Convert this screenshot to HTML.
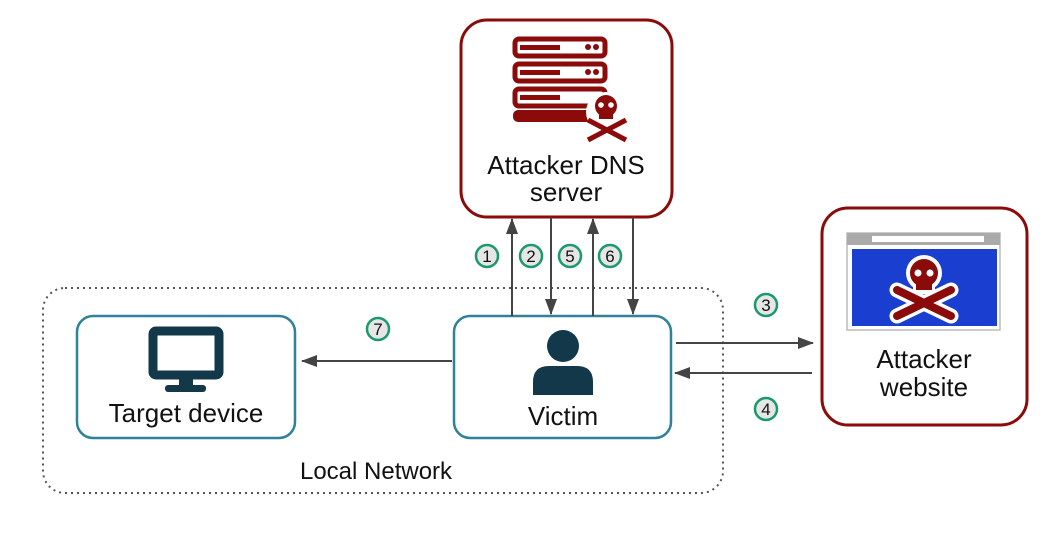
<!DOCTYPE html>
<html><head><style>body{margin:0;background:#fff}svg{display:block}text{font-family:"Liberation Sans",sans-serif;fill:#111}</style></head><body>
<svg width="1064" height="534" viewBox="0 0 1064 534">
<defs><marker id="b" markerWidth="16" markerHeight="16" refX="15" refY="6" orient="auto" markerUnits="userSpaceOnUse"><path d="M0,0L16,6L0,12z" fill="#444"/></marker></defs>
<rect x="43" y="288" width="680" height="205" rx="22" fill="none" stroke="#555" stroke-width="2" stroke-dasharray="2,4"/>
<rect x="461" y="20" width="211" height="197" rx="26" fill="#fff" stroke="#8b0a0a" stroke-width="3"/>
<rect x="822" y="208" width="205" height="217" rx="26" fill="#fff" stroke="#8b0a0a" stroke-width="3"/>
<rect x="77" y="316" width="218" height="122" rx="16" fill="#fff" stroke="#2e8299" stroke-width="2.5"/>
<rect x="454" y="316" width="217" height="122" rx="16" fill="#fff" stroke="#2e8299" stroke-width="2.5"/>
<!-- server icon -->
<g fill="none" stroke="#8b0a0a" stroke-width="5">
<rect x="515" y="39" width="90" height="17" rx="4"/><rect x="515" y="64" width="90" height="17" rx="4"/><rect x="515" y="89" width="90" height="17" rx="4"/></g>
<g fill="#8b0a0a"><rect x="520" y="45" width="40" height="5"/><rect x="520" y="70" width="40" height="5"/><rect x="520" y="95" width="40" height="5"/>
<circle cx="588" cy="47" r="3"/><circle cx="596" cy="47" r="3"/><circle cx="588" cy="72" r="3"/><circle cx="596" cy="72" r="3"/>
<rect x="513" y="110" width="80" height="12" rx="5"/></g>
<circle cx="606" cy="112" r="20" fill="#fff"/>
<path d="M588,120L626,140M626,120L588,140" stroke="#8b0a0a" stroke-width="5"/>
<circle cx="606" cy="106" r="11" fill="#8b0a0a"/><rect x="599" y="110" width="14" height="9" fill="#8b0a0a"/><circle cx="601" cy="105" r="2.8" fill="#fff"/><circle cx="611" cy="105" r="2.8" fill="#fff"/>
<text x="566" y="174" font-size="26" text-anchor="middle">Attacker DNS</text>
<text x="566" y="201" font-size="26" text-anchor="middle">server</text>
<!-- browser -->
<rect x="847" y="233" width="153" height="97" fill="#fff" stroke="#bbb" stroke-width="1.5"/>
<rect x="847" y="233" width="153" height="12" fill="#aaa"/>
<rect x="872" y="236" width="112" height="6" fill="#fff"/>
<rect x="852" y="249" width="145" height="77" fill="#1a3ed0"/>
<path d="M897,290L951,316M951,290L897,316" stroke="#fff" stroke-width="15" stroke-linecap="round"/>
<path d="M897,290L951,316M951,290L897,316" stroke="#8b0a0a" stroke-width="8" stroke-linecap="round"/>
<circle cx="924" cy="273" r="18" fill="#fff"/><rect x="913" y="280" width="22" height="14" rx="3" fill="#fff"/>
<circle cx="924" cy="273" r="14" fill="#8b0a0a"/><rect x="916" y="280" width="16" height="10" fill="#8b0a0a"/>
<circle cx="918" cy="273" r="3.5" fill="#fff"/><circle cx="930" cy="273" r="3.5" fill="#fff"/>
<text x="924" y="368" font-size="26" text-anchor="middle">Attacker</text>
<text x="924" y="396" font-size="26" text-anchor="middle">website</text>
<!-- monitor -->
<rect x="153" y="331" width="66" height="44" rx="3" fill="none" stroke="#12384a" stroke-width="9"/>
<rect x="179" y="377" width="14" height="10" fill="#12384a"/><rect x="165" y="385" width="41" height="7" rx="3" fill="#12384a"/>
<text x="186" y="422" font-size="26" text-anchor="middle">Target device</text>
<!-- person -->
<circle cx="563" cy="346" r="16" fill="#12384a"/>
<path d="M533,395L533,382Q533,366 549,366L577,366Q593,366 593,382L593,395z" fill="#12384a"/>
<text x="563" y="425" font-size="26" text-anchor="middle">Victim</text>
<text x="376" y="479" font-size="24" text-anchor="middle">Local Network</text>
<!-- arrows -->
<g stroke="#444" stroke-width="2" fill="none">
<line x1="512" y1="316" x2="512" y2="219" marker-end="url(#b)"/>
<line x1="551" y1="217" x2="551" y2="314" marker-end="url(#b)"/>
<line x1="593" y1="316" x2="593" y2="219" marker-end="url(#b)"/>
<line x1="633" y1="217" x2="633" y2="314" marker-end="url(#b)"/>
<line x1="452" y1="361" x2="302" y2="361" marker-end="url(#b)"/>
<line x1="676" y1="343" x2="813" y2="343" marker-end="url(#b)"/>
<line x1="812" y1="373" x2="675" y2="373" marker-end="url(#b)"/>
</g>
<g font-size="17" text-anchor="middle">
<g fill="#e6e6e6" stroke="#1a9a6a" stroke-width="2.5">
<circle cx="487" cy="256" r="11"/><circle cx="531" cy="256" r="11"/><circle cx="570" cy="256" r="11"/><circle cx="610" cy="256" r="11"/>
<circle cx="378" cy="329" r="11"/><circle cx="766" cy="305" r="11"/><circle cx="766" cy="409" r="11"/></g>
<text x="487" y="262">1</text><text x="531" y="262">2</text><text x="570" y="262">5</text><text x="610" y="262">6</text>
<text x="378" y="335">7</text><text x="766" y="311">3</text><text x="766" y="415">4</text></g>
</svg></body></html>
